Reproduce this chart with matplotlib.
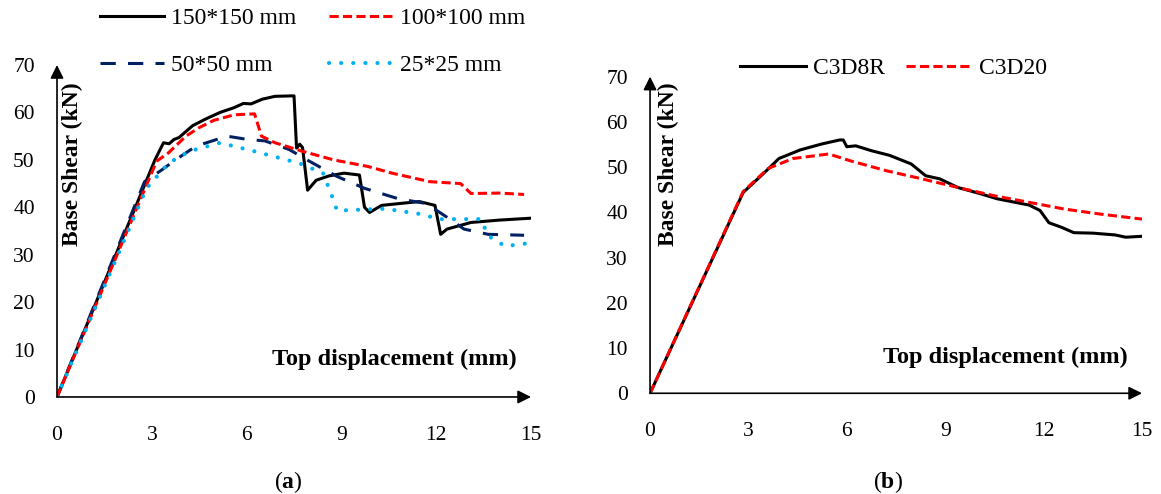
import matplotlib
matplotlib.use('Agg')
import matplotlib.pyplot as plt

plt.rcParams['font.family'] = ['Liberation Serif', 'DejaVu Serif']
plt.rcParams['mathtext.fontset'] = 'custom'
plt.rcParams['mathtext.rm'] = 'Liberation Serif'
plt.rcParams['mathtext.bf'] = 'Liberation Serif:bold'

# (a) mesh size study
x_150 = [0, 3.1, 3.37, 3.55, 3.7, 3.86, 4.29, 4.7, 5.16, 5.6, 5.9, 6.14, 6.5, 6.9, 7.5,
         7.58, 7.68, 7.77, 7.93, 8.2, 8.6, 9.08, 9.57, 9.73, 9.89, 10.27, 11.0, 11.47, 11.96,
         12.14, 12.34, 13.1, 14.0, 15]
y_150 = [0, 50.0, 53.6, 53.4, 54.3, 54.7, 57.2, 58.6, 60.0, 61.0, 61.9, 61.8, 62.8, 63.4, 63.5,
         52.5, 53.3, 52.6, 43.6, 45.7, 46.6, 47.2, 46.8, 40.0, 38.9, 40.4, 40.9, 41.2, 40.4,
         34.3, 35.4, 36.8, 37.3, 37.7]
x_100 = [0, 3.15, 3.53, 4.08, 4.5, 4.95, 5.6, 6.25, 6.47, 6.9, 7.77, 8.75, 9.84, 10.6,
         11.8, 12.77, 13.1, 14.0, 14.78]
y_100 = [0, 49.7, 51.5, 55.0, 56.8, 58.3, 59.5, 59.7, 55.0, 53.6, 51.8, 50.0, 48.6, 47.2,
         45.4, 45.0, 42.9, 43.0, 42.7]
x_50 = [0, 2.77, 3.32, 3.75, 4.4, 5.38, 6.03, 6.58, 7.34, 7.99, 8.86, 9.73, 10.8, 11.68,
        12.34, 12.88, 13.64, 14.78]
y_50 = [0, 45.4, 47.9, 50.0, 52.9, 55.0, 54.3, 54.0, 52.2, 49.7, 46.5, 44.0, 41.8, 40.8,
        37.9, 35.4, 34.3, 34.1]
x_25 = [0, 2.83, 3.53, 4.18, 5.16, 6.25, 7.66, 8.42, 8.75, 8.86, 10.38, 11.47, 12.12,
        13.42, 13.64, 14.18, 14.89]
y_25 = [0, 44.0, 49.3, 51.8, 53.6, 51.8, 49.3, 47.2, 41.5, 39.3, 39.7, 38.6, 37.5,
        37.5, 34.0, 31.8, 32.4]

# (b) element type study
x_c3d8r = [0, 2.84, 3.49, 3.93, 4.58, 5.23, 5.78, 5.89, 6.0, 6.27, 6.76, 7.3, 7.96, 8.4,
           8.83, 9.38, 10.03, 10.58, 11.56, 11.89, 12.16, 12.54, 12.92, 13.5, 14.18, 14.5, 15]
y_c3d8r = [0, 44.4, 48.8, 51.9, 53.8, 55.1, 56.0, 56.0, 54.5, 54.7, 53.6, 52.6, 50.7, 48.1,
           47.4, 45.5, 44.2, 43.0, 41.6, 40.4, 37.7, 36.7, 35.5, 35.4, 35.0, 34.5, 34.7]
x_c3d20 = [0, 2.84, 3.6, 4.36, 5.45, 6.1, 7.2, 8.29, 9.38, 10.47, 11.56, 12.65, 13.74, 15]
y_c3d20 = [0, 44.6, 49.7, 51.9, 52.9, 51.4, 49.2, 47.4, 45.5, 43.7, 42.2, 40.7, 39.6, 38.5]

xticks = [0, 3, 6, 9, 12, 15]
yticks = [0, 10, 20, 30, 40, 50, 60, 70]

fig = plt.figure(figsize=(11.61, 4.94), dpi=100)
ax1 = fig.add_axes([0.0491, 0.1964, 0.4083, 0.672])
ax2 = fig.add_axes([0.5599, 0.2039, 0.4238, 0.641])

ax1.plot(x_150, y_150, color='black', lw=2.2, label='150*150 mm')
ax1.plot(x_50, y_50, color='#002060', lw=2.2, ls=(0, (5, 4)), label='50*50 mm')
ax1.plot(x_100, y_100, color='#ff0000', lw=2.2, ls=(0, (3, 1.4)), label='100*100 mm')
ax1.plot(x_25, y_25, color='#00b0f0', lw=3, ls=(0, (0.01, 2.9)),
         dash_capstyle='round', label='25*25 mm')

ax2.plot(x_c3d8r, y_c3d8r, color='black', lw=2.2, label='C3D8R')
ax2.plot(x_c3d20, y_c3d20, color='#ff0000', lw=2.2, ls=(0, (3, 1.4)), label='C3D20')

for ax in (ax1, ax2):
    ax.set_xlim(0, 15)
    ax.set_ylim(0, 70)
    ax.set_xticks(xticks)
    ax.set_yticks(yticks)
    for s in ax.spines.values():
        s.set_visible(False)
    ax.tick_params(length=0, labelsize=15.5)
    ax.tick_params(axis='x', pad=21)
    ax.tick_params(axis='y', pad=16)
    ax.patch.set_alpha(0)
    arrow = dict(arrowstyle='-|>', color='black', lw=1.2, mutation_scale=20,
                 shrinkA=0, shrinkB=0)
    ax.annotate('', xy=(1, 0), xytext=(0, 0), xycoords='axes fraction', arrowprops=arrow)
    ax.annotate('', xy=(0, 1), xytext=(0, 0), xycoords='axes fraction', arrowprops=arrow)
    ax.text(14.55, 8.0, 'Top displacement (mm)', fontsize=17.5, fontweight='bold',
            ha='right', va='center')

ax1.text(0.5, 49.0, 'Base Shear (kN)', fontsize=17, fontweight='bold', rotation=90,
         ha='center', va='center')
ax2.text(0.55, 50.6, 'Base Shear (kN)', fontsize=17, fontweight='bold', rotation=90,
         ha='center', va='center')

h, l = ax1.get_legend_handles_labels()
ax1.legend(h, l, ncol=2, frameon=False,
           fontsize=17, handlelength=2.7, handletextpad=0.3, columnspacing=1.4,
           labelspacing=1.1, borderpad=0, borderaxespad=0,
           loc='upper left', bbox_to_anchor=(0.0862, 0.985), bbox_transform=fig.transFigure)
ax2.legend(ncol=2, frameon=False, fontsize=17, handlelength=2.8, handletextpad=0.3,
           columnspacing=0.9, borderpad=0, borderaxespad=0,
           loc='upper left', bbox_to_anchor=(0.637, 0.884), bbox_transform=fig.transFigure)

fig.text(288 / 1161, 1 - 482 / 494, r'($\mathbf{a}$)', fontsize=17, ha='center', va='center')
fig.text(888 / 1161, 1 - 482 / 494, r'($\mathbf{b}$)', fontsize=17, ha='center', va='center')

fig.savefig('out.png', dpi=100)
